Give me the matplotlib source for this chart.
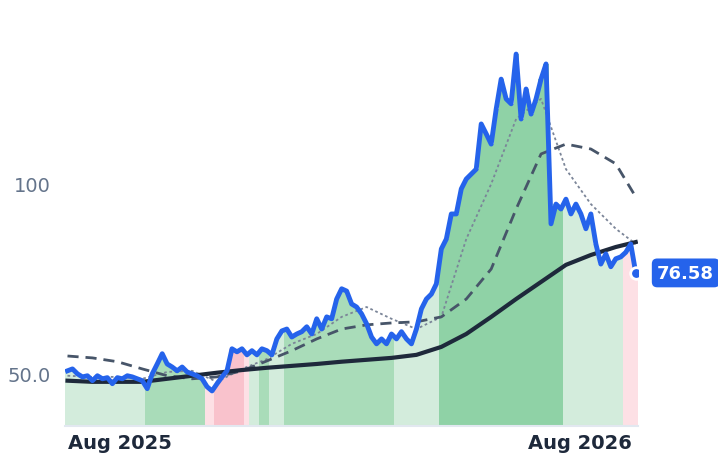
import numpy as np
import pandas as pd
import matplotlib
matplotlib.use("Agg")
import matplotlib.pyplot as plt

# === DATA ===
price = [50.8, 51.3, 50.0, 49.2, 49.5, 48.2, 49.5, 48.7, 49.0, 47.4, 49.0, 48.7, 49.5, 49.2, 48.7, 48.2,
         46.1, 50.0, 52.6, 55.3, 52.6, 51.8, 50.8, 51.8, 50.5, 50.0, 49.5, 48.7, 46.6, 45.5, 47.4, 49.2,
         50.8, 56.6, 55.8, 56.6, 55.0, 56.1, 55.0, 56.6, 56.1, 55.0, 59.2, 61.3, 61.8, 59.7, 60.5, 61.1,
         62.4, 60.5, 64.5, 61.8, 65.0, 64.5, 69.7, 72.4, 71.8, 68.4, 67.6, 65.8, 63.2, 59.7, 57.9, 59.2,
         57.9, 60.5, 59.2, 61.1, 59.2, 57.9, 61.8, 67.1, 69.7, 71.0, 73.7, 82.9, 85.5, 92.1, 92.1, 98.7,
         101.3, 102.6, 103.9, 115.8, 113.2, 110.5, 119.7, 127.6, 122.4, 121.1, 134.2, 117.1, 125.0, 118.4,
         122.4, 127.6, 131.6, 89.5, 94.7, 93.4, 96.0, 92.1, 94.7, 92.1, 88.2, 92.1, 84.2, 78.9, 81.6, 78.2,
         80.3, 80.8, 82.0, 84.2, 76.58]
ma_long = [48.2, 47.9, 47.9, 47.9, 48.7, 49.5, 50.3, 51.0, 51.6, 52.1, 52.6, 53.2, 53.7, 54.2, 55.0,
           57.1, 60.5, 65.0, 69.7, 74.2, 78.7, 81.3, 83.4, 84.7]
ma_mid = [54.7, 54.2, 53.2, 51.3, 49.5, 48.7, 49.2, 50.8, 53.4, 56.1, 59.2, 61.8, 62.9, 63.4, 63.7,
          65.0, 69.7, 77.6, 93.4, 107.9, 110.5, 109.2, 105.3, 96.6]
ma_short = [49.5, 49.2, 49.2, 48.7, 50.5, 50.8, 47.9, 51.3, 53.9, 57.9, 60.5, 65.0, 67.6, 64.5, 61.8,
            65.0, 85.5, 100.0, 117.1, 122.4, 103.9, 94.7, 88.2, 84.2]
# regime segments: (first index, last index exclusive, kind)
segments = [(0, 16, "light"), (16, 28, "mid"), (28, 30, "lpink"), (30, 36, "pink"), (36, 37, "lpink"),
            (37, 39, "light"), (39, 41, "mid"), (41, 44, "light"), (44, 66, "mid"), (66, 75, "light"),
            (75, 100, "dark"), (100, 112, "light"), (112, 115, "lpink")]
seg_colors = {"light": "#d3ecdc", "mid": "#a9dcb9", "dark": "#8fd2a6", "pink": "#f9c2cc", "lpink": "#fde0e5"}

dates = pd.date_range("2025-06-20", periods=len(price), freq="95h")
ma_dates = list(dates[::5]) + [dates[-1]]

fig = plt.figure(figsize=(7.18, 4.64), dpi=100)
ax = fig.add_axes([0.0905, 0.08, 0.798, 0.92])
ymin = 36.3

step = dates[1] - dates[0]
for s, e, kind in segments:
    d = dates[s:e]
    h = np.array(price[s:e]) - ymin
    ax.bar(d, h, bottom=ymin, width=step * 1.02, color=seg_colors[kind], linewidth=0, zorder=1)

ax.plot(ma_dates, ma_short, color="#7b8598", lw=1.3, ls=(0, (1.5, 1.5)), zorder=2)
ax.plot(ma_dates, ma_mid, color="#475569", lw=2, ls=(0, (4, 2.5)), zorder=2)
ax.plot(ma_dates, ma_long, color="#1e293b", lw=3, zorder=3)
ax.plot(dates, price, color="#2563eb", lw=3.5, solid_joinstyle="round", zorder=4)
ax.scatter([dates[-1]], [price[-1]], s=70, color="#2563eb", edgecolor="white", linewidth=2, zorder=5)
ax.annotate(f"{price[-1]:.2f}", (dates[-1], price[-1]), xytext=(36, 0), textcoords="offset points",
            ha="center", va="center", color="white", fontsize=13, fontweight="bold",
            bbox=dict(boxstyle="round,pad=0.3", fc="#2563eb", ec="none"), annotation_clip=False)

ax.set_ylim(ymin, 148.7)
ax.set_xlim(dates[0] - pd.Timedelta(days=2), dates[0] + pd.Timedelta(days=453))
ax.set_yticks([50, 100])
ax.set_yticklabels(["50.0", "100"], color="#64748b", fontsize=14)
ax.set_xticks([pd.Timestamp("2025-08-01"), pd.Timestamp("2026-08-01")])
ax.set_xticklabels(["Aug 2025", "Aug 2026"], color="#1e293b", fontsize=14, fontweight="bold")
ax.tick_params(axis="y", length=0, pad=10)
ax.tick_params(axis="x", length=0, pad=5)
for sp in ["top", "right", "left"]:
    ax.spines[sp].set_visible(False)
ax.spines["bottom"].set_color("#e2e8f0")
ax.spines["bottom"].set_linewidth(1.5)

fig.savefig("out.png", dpi=100)
